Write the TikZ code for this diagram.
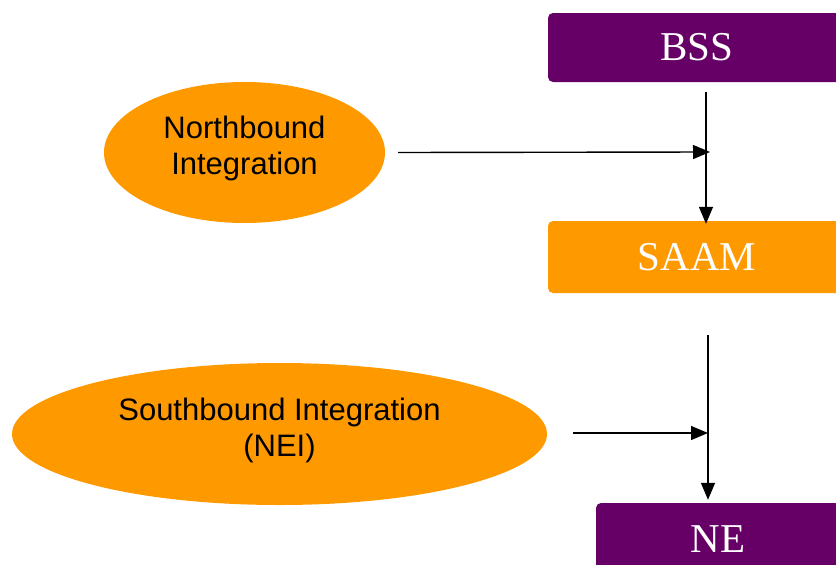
\documentclass[tikz,border=0pt]{standalone}
\usepackage{fontspec}
\setmainfont{Liberation Serif}
\newfontfamily\arialfont{Liberation Sans}
\usetikzlibrary{shapes.geometric,arrows.meta}
\definecolor{roxo}{HTML}{660066}
\definecolor{laranja}{HTML}{FF9900}
\tikzset{
  caixa/.style={rectangle, rounded corners=5pt, inner sep=0pt, text=white,
    font=\fontsize{41}{41}\selectfont},
  elipse/.style={ellipse, fill=laranja, inner sep=0pt},
  rotulo/.style={align=center, inner sep=0pt, font=\arialfont\fontsize{31}{36}\selectfont},
  seta/.style={line width=1.4pt, -{Triangle[length=17pt,width=14pt]}}
}
\begin{document}
\begin{tikzpicture}[x=1pt,y=-1pt]
    \useasboundingbox (0,0) rectangle (836,565);
    \clip (0,0) rectangle (836,565);
    % Caixas
    \node[caixa, fill=roxo, minimum width=298pt, minimum height=69pt] (bss) at (697,47.5) {BSS};
    \node[caixa, fill=laranja, minimum width=298pt, minimum height=72pt] (saam) at (697,257) {SAAM};
    \node[caixa, fill=roxo, minimum width=244pt, minimum height=72pt] (ne) at (718,539) {NE};

    % Elipses
    \node[elipse, minimum width=281pt, minimum height=141pt] (nbi) at (244.5,152.5) {};
    \node[rotulo] (nbitxt) at ([yshift=4pt]nbi.center) {Northbound\\Integration};
    \node[elipse, minimum width=535pt, minimum height=142pt] (sbi) at (279.5,434) {};
    \node[rotulo] (sbitxt) at ([yshift=4pt]sbi.center) {Southbound Integration\\(NEI)};

    \coordinate (juncaoN) at (710,152);
    \coordinate (juncaoS) at (708,433);

    % Setas
    \draw[seta] ([xshift=9pt,yshift=-10pt]bss.south) -- ([xshift=9pt,yshift=-3pt]saam.north);
    \draw[seta] ([xshift=13pt]nbi.east) -- (juncaoN);
    \draw[seta] ([xshift=11pt,yshift=-42pt]saam.south) -- ([xshift=-10pt,yshift=3pt]ne.north);
    \draw[seta] ([xshift=26pt,yshift=1pt]sbi.east) -- (juncaoS);
\end{tikzpicture}
\end{document}
